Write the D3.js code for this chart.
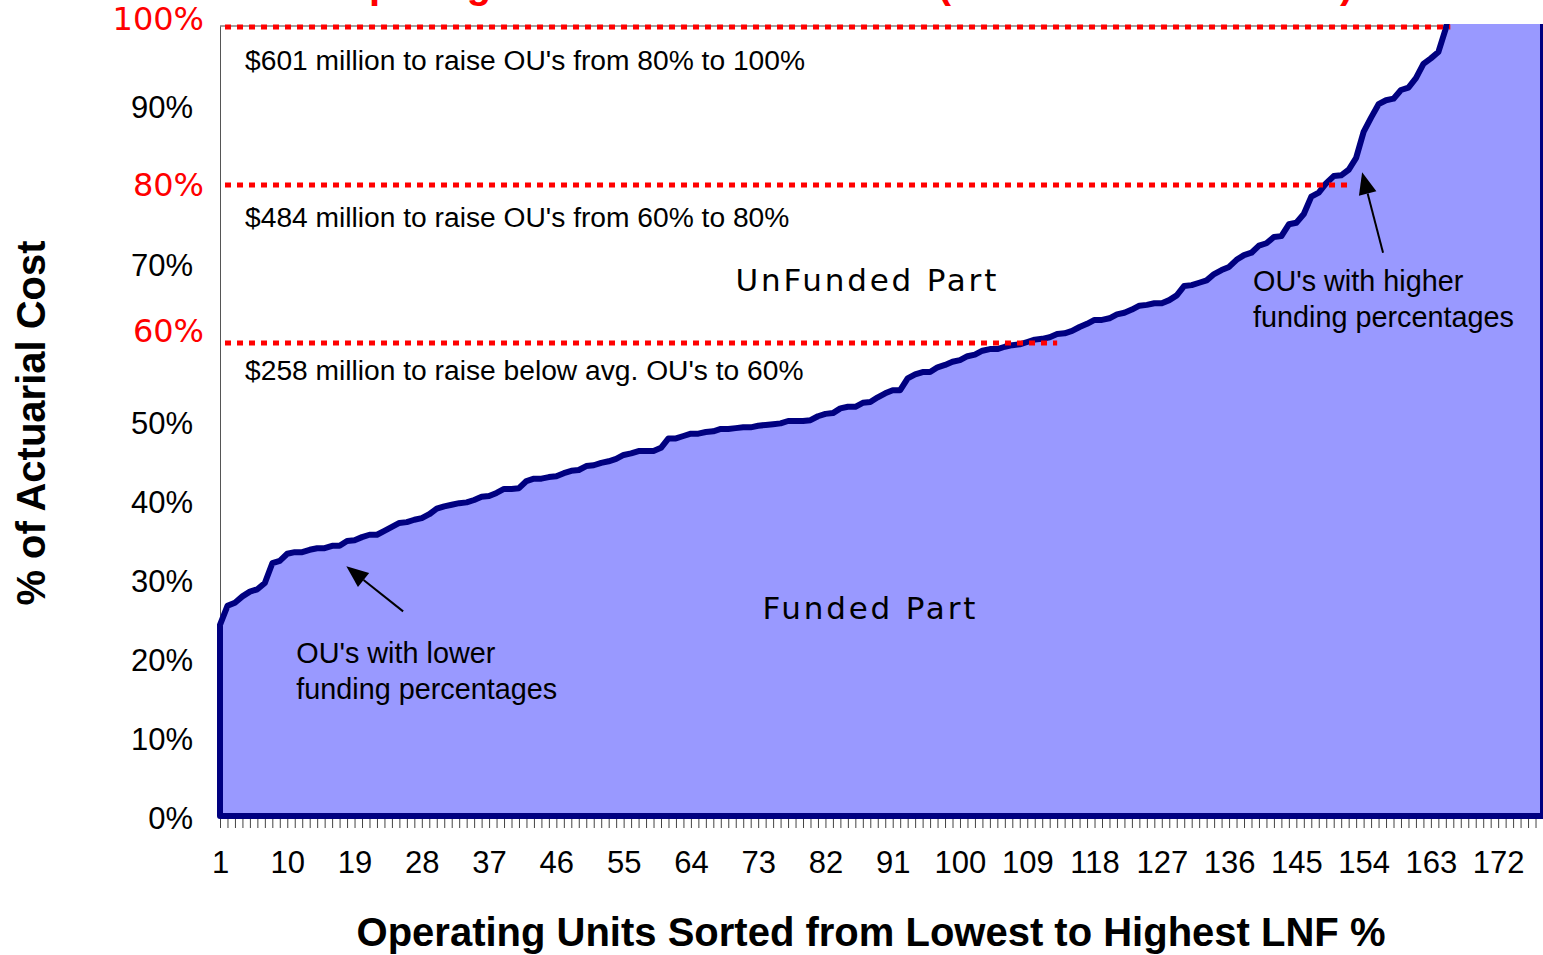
<!DOCTYPE html>
<html>
<head>
<meta charset="utf-8">
<script src="https://cdn.jsdelivr.net/npm/d3@7"></script>
<style>
  body { margin: 0; background: #fff; }
  svg { display: block; }
</style>
</head>
<body>
<div id="chart"></div>
<script>
// funded % of actuarial cost for each operating unit, sorted low -> high
var funded = [
  24.2, 26.6, 27.0, 27.8, 28.4, 28.7, 29.5, 32.0, 32.3, 33.2,
  33.4, 33.4, 33.7, 33.9, 33.9, 34.2, 34.2, 34.8, 34.9, 35.3,
  35.6, 35.6, 36.1, 36.6, 37.1, 37.2, 37.5, 37.7, 38.2, 38.9,
  39.2, 39.4, 39.6, 39.7, 40.0, 40.4, 40.5, 40.9, 41.4, 41.4,
  41.5, 42.4, 42.7, 42.7, 42.9, 43.0, 43.4, 43.7, 43.8, 44.3,
  44.4, 44.7, 44.9, 45.2, 45.7, 45.9, 46.2, 46.2, 46.2, 46.6,
  47.8, 47.8, 48.1, 48.4, 48.4, 48.6, 48.7, 49.0, 49.0, 49.1,
  49.2, 49.2, 49.4, 49.5, 49.6, 49.7, 50.0, 50.0, 50.0, 50.1,
  50.6, 50.9, 51.0, 51.6, 51.8, 51.8, 52.3, 52.4, 53.0, 53.5,
  53.9, 53.9, 55.4, 55.9, 56.2, 56.2, 56.8, 57.1, 57.5, 57.7,
  58.2, 58.4, 58.9, 59.1, 59.1, 59.4, 59.6, 59.7, 60.0, 60.3,
  60.4, 60.6, 61.0, 61.1, 61.4, 61.9, 62.3, 62.8, 62.8, 63.0,
  63.5, 63.7, 64.1, 64.6, 64.7, 64.9, 64.9, 65.3, 65.9, 67.1,
  67.2, 67.5, 67.8, 68.6, 69.1, 69.5, 70.4, 71.0, 71.3, 72.2,
  72.5, 73.3, 73.4, 74.9, 75.1, 76.2, 78.4, 78.9, 80.1, 81.0,
  81.1, 81.8, 83.3, 86.6, 88.4, 90.1, 90.6, 90.8, 91.9, 92.2,
  93.4, 95.2, 95.9, 96.7, 99.7, 104, 108, 113, 119, 126,
  134, 143, 152, 163, 175, 190, 210, 240
];
var units = d3.range(1, funded.length + 1);

var yTicks = [0, 10, 20, 30, 40, 50, 70, 90];
var redLevels = [100, 80, 60];          // dotted target lines
var redEnds = [165.6, 151.8, 113];      // unit where each dotted line stops
var redShift = [-1, 7, -5];             // label nudge off the line (px)
var costLabels = [
  "$601 million to raise OU's from 80% to 100%",
  "$484 million to raise OU's from 60% to 80%",
  "$258 million to raise below avg. OU's to 60%"
];
var costLevels = [94.4, 74.5, 55.2];

var width = 1543, height = 955;
var font = "'Liberation Sans', Arial, sans-serif";

var svg = d3.select("div#chart")
    .append("svg")
    .attr("width", width)
    .attr("height", height);

var x = d3.scaleLinear().domain([1, funded.length]).range([220, 1543]);
var y = d3.scaleLinear().domain([0, 100]).range([816, 26]);

svg.append("clipPath").attr("id", "plotclip")
  .append("rect")
    .attr("x", 214).attr("y", y(100) - 2)
    .attr("width", width).attr("height", y(0) - y(100) + 8);

// title: only the bottom of it makes it into the frame
svg.append("text")
    .attr("x", 280).attr("y", -2)
    .attr("fill", "#ff0000")
    .style("font", "bold 40px " + font)
    .text("Comparing Funded and Unfunded (Actuarial Cost Basis)");

// left axis line + 100% border
svg.append("line")
    .attr("x1", x(1) + 0.5).attr("x2", x(1) + 0.5)
    .attr("y1", y(100)).attr("y2", y(0))
    .attr("stroke", "#555").attr("stroke-width", 1);
svg.append("line")
    .attr("x1", x(1)).attr("x2", width)
    .attr("y1", y(100)).attr("y2", y(100))
    .attr("stroke", "#808080").attr("stroke-width", 1.5);

var area = d3.area()
    .x((d, i) => x(units[i]))
    .y0(y(0))
    .y1((d) => y(d));

svg.append("path")
    .datum(funded)
    .attr("clip-path", "url(#plotclip)")
    .attr("d", area)
    .attr("fill", "#9999ff")
    .attr("stroke", "#000080")
    .attr("stroke-width", 6)
    .attr("stroke-linejoin", "round");

// x axis ticks at every unit, label every 9th
var xAxis = svg.append("g")
    .attr("transform", "translate(0," + y(0) + ")")
    .call(d3.axisBottom(x)
        .tickValues(units)
        .tickSize(9)
        .tickPadding(26)
        .tickFormat((d) => (d - 1) % 9 === 0 ? d : ""));
xAxis.select(".domain").remove();
xAxis.selectAll(".tick line").attr("stroke", "#444").attr("transform", "translate(0,3)");
xAxis.selectAll("text").style("font", "31px " + font).attr("fill", "#000");

var yAxis = svg.append("g")
    .attr("transform", "translate(" + x(1) + ",3)")
    .call(d3.axisLeft(y)
        .tickValues(yTicks)
        .tickSize(0)
        .tickPadding(27)
        .tickFormat((d) => d + "%"));
yAxis.select(".domain").remove();
yAxis.selectAll("text").style("font", "31px " + font).attr("fill", "#000");

// red dotted target lines and their labels
svg.selectAll("line.target")
    .data(redLevels)
    .enter()
    .append("line")
    .attr("class", "target")
    .attr("x1", x(1.67))
    .attr("x2", (d, i) => x(redEnds[i]))
    .attr("y1", (d) => y(d) + 1)
    .attr("y2", (d) => y(d) + 1)
    .attr("stroke", "#ff0000")
    .attr("stroke-width", 5)
    .attr("stroke-dasharray", "6,6");

svg.selectAll("text.redlab")
    .data(redLevels)
    .enter()
    .append("text")
    .attr("class", "redlab")
    .attr("x", 204)
    .attr("y", (d, i) => y(d) + 5 + redShift[i])
    .attr("text-anchor", "end")
    .attr("fill", "#ff0000")
    .style("font", "32px 'DejaVu Sans', Verdana, sans-serif")
    .text((d) => d + "%");

svg.selectAll("text.cost")
    .data(costLabels)
    .enter()
    .append("text")
    .attr("class", "cost")
    .attr("x", x(4.35))
    .attr("y", (d, i) => y(costLevels[i]))
    .style("font", "28.2px " + font)
    .text((d) => d);

// region names
var regionFont = "31px 'DejaVu Sans', Verdana, sans-serif";
svg.append("text")
    .attr("x", x(87.6)).attr("y", y(66.5))
    .attr("text-anchor", "middle")
    .style("font", regionFont).style("letter-spacing", "2.8px")
    .text("UnFunded Part");
svg.append("text")
    .attr("x", x(88)).attr("y", y(25))
    .attr("text-anchor", "middle")
    .style("font", regionFont).style("letter-spacing", "2.8px")
    .text("Funded Part");

// callouts with arrows
var notes = [
  {lines: ["OU's with lower", "funding percentages"], tx: 11.2, ty: 19.4,
   from: [25.5, 25.9], to: [17.9, 31.6]},
  {lines: ["OU's with higher", "funding percentages"], tx: 139.2, ty: 66.4,
   from: [156.6, 71.3], to: [153.8, 81.5]}
];

notes.forEach(function(n) {
  var t = svg.append("text")
      .attr("x", x(n.tx)).attr("y", y(n.ty))
      .style("font", "28.8px " + font);
  t.selectAll("tspan")
      .data(n.lines)
      .enter()
      .append("tspan")
      .attr("x", x(n.tx))
      .attr("dy", (d, i) => i === 0 ? 0 : 36)
      .text((d) => d);

  var x1 = x(n.from[0]), y1 = y(n.from[1]);
  var x2 = x(n.to[0]), y2 = y(n.to[1]);
  var ang = Math.atan2(y2 - y1, x2 - x1);
  var len = 22, half = 9;
  var bx = x2 - len * Math.cos(ang), by = y2 - len * Math.sin(ang);
  svg.append("line")
      .attr("x1", x1).attr("y1", y1).attr("x2", bx).attr("y2", by)
      .attr("stroke", "#000").attr("stroke-width", 2);
  svg.append("path")
      .attr("d", "M" + x2 + "," + y2 +
                 "L" + (bx + half * Math.sin(ang)) + "," + (by - half * Math.cos(ang)) +
                 "L" + (bx - half * Math.sin(ang)) + "," + (by + half * Math.cos(ang)) + "Z")
      .attr("fill", "#000");
});

// axis titles
svg.append("text")
    .attr("transform", "translate(45,423) rotate(-90)")
    .attr("text-anchor", "middle")
    .style("font", "bold 40px " + font)
    .text("% of  Actuarial Cost");

svg.append("text")
    .attr("x", 871).attr("y", 946)
    .attr("text-anchor", "middle")
    .style("font", "bold 40px " + font)
    .text("Operating Units Sorted from Lowest to Highest LNF %");
</script>
</body>
</html>
